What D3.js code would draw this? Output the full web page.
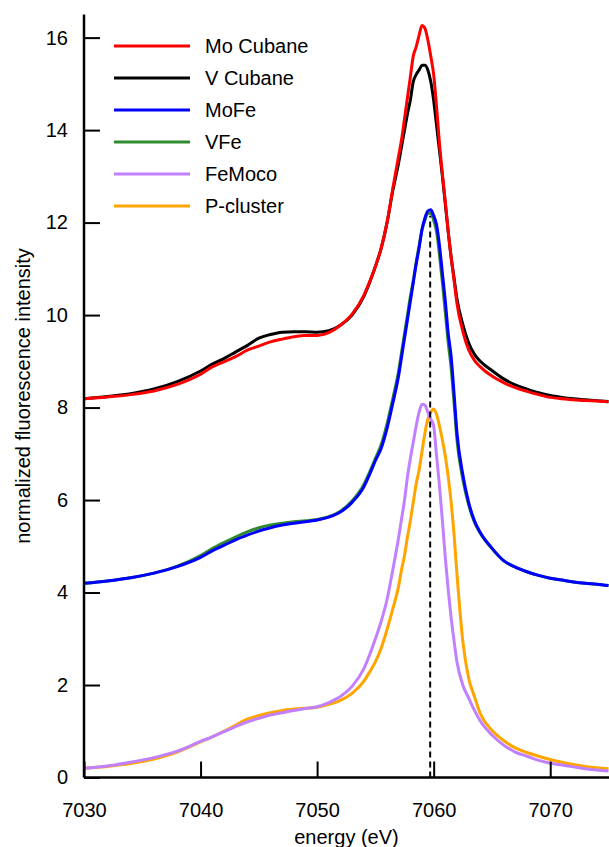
<!DOCTYPE html>
<html>
<head>
<meta charset="utf-8">
<script src="https://cdn.jsdelivr.net/npm/d3@7"></script>
<style>
  body { margin: 0; background: #fff; }
  svg text { font-family: "Liberation Sans", Arial, sans-serif; }
</style>
</head>
<body>
<svg id="chart" width="609" height="847"></svg>
<script>
// energy grid (eV), shared by all spectra
const energy = [7030, 7032, 7034, 7036, 7038, 7040, 7041, 7042, 7043, 7044,
  7045, 7046, 7047, 7048, 7049, 7050, 7051, 7052, 7053, 7054,
  7054.5, 7055, 7055.5, 7056, 7056.5, 7057, 7057.25, 7057.5, 7057.75, 7058,
  7058.25, 7058.5, 7058.75, 7059, 7059.25, 7059.5, 7059.75, 7060, 7060.25, 7060.5,
  7060.75, 7061, 7061.25, 7061.5, 7061.75, 7062, 7062.5, 7063, 7063.5, 7064,
  7065, 7066, 7067, 7068, 7069, 7070, 7071, 7072, 7073, 7074, 7075];

const moCubane = [8.19, 8.23, 8.28, 8.36, 8.50, 8.72, 8.88, 8.99, 9.10, 9.24,
  9.33, 9.42, 9.48, 9.53, 9.56, 9.56, 9.62, 9.78, 10.02, 10.42,
  10.72, 11.05, 11.45, 12.0, 12.75, 13.45, 13.8, 14.25, 14.7, 15.15,
  15.6, 15.8, 16.05, 16.26, 16.2, 15.95, 15.6, 15.2, 14.5, 13.7,
  13.05, 12.45, 11.8, 11.25, 10.75, 10.25, 9.65, 9.25, 9.02, 8.88,
  8.68, 8.54, 8.43, 8.35, 8.28, 8.22, 8.19, 8.17, 8.15, 8.14, 8.12];

const vCubane = [8.19, 8.24, 8.30, 8.40, 8.56, 8.79, 8.94, 9.06, 9.20, 9.34,
  9.50, 9.58, 9.63, 9.64, 9.64, 9.63, 9.66, 9.78, 10.0, 10.4,
  10.7, 11.05, 11.45, 12.0, 12.7, 13.3, 13.65, 14.0, 14.35, 14.65,
  15.05, 15.2, 15.3, 15.4, 15.4, 15.3, 15.05, 14.64, 14.1, 13.55,
  13.0, 12.4, 11.8, 11.25, 10.8, 10.35, 9.8, 9.4, 9.15, 9.0,
  8.8, 8.62, 8.49, 8.40, 8.32, 8.26, 8.22, 8.19, 8.17, 8.15, 8.13];

const moFe = [4.20, 4.25, 4.32, 4.42, 4.56, 4.76, 4.90, 5.02, 5.14, 5.24,
  5.33, 5.40, 5.46, 5.50, 5.53, 5.57, 5.63, 5.74, 5.95, 6.28,
  6.55, 6.85, 7.12, 7.55, 8.1, 8.7, 9.1, 9.5, 9.9, 10.3,
  10.7, 11.1, 11.45, 11.85, 12.1, 12.25, 12.28, 12.15, 11.95, 11.5,
  10.9, 10.3, 9.6, 9.1, 8.3, 7.45, 6.55, 5.95, 5.55, 5.3,
  4.96, 4.69, 4.55, 4.45, 4.37, 4.31, 4.27, 4.23, 4.20, 4.18, 4.15];

const vFe = [4.20, 4.25, 4.32, 4.42, 4.57, 4.80, 4.95, 5.08, 5.20, 5.31,
  5.40, 5.46, 5.50, 5.53, 5.55, 5.58, 5.64, 5.76, 5.98, 6.33,
  6.6, 6.9, 7.2, 7.65, 8.2, 8.8, 9.2, 9.6, 10.0, 10.4,
  10.75, 11.15, 11.5, 11.85, 12.05, 12.2, 12.2, 12.05, 11.8, 11.3,
  10.7, 10.05, 9.4, 8.85, 8.1, 7.3, 6.45, 5.9, 5.52, 5.28,
  4.95, 4.69, 4.55, 4.45, 4.37, 4.31, 4.27, 4.23, 4.20, 4.18, 4.15];

const feMoco = [0.20, 0.25, 0.33, 0.43, 0.57, 0.78, 0.88, 0.99, 1.10, 1.20,
  1.28, 1.35, 1.40, 1.45, 1.49, 1.53, 1.62, 1.75, 1.97, 2.35,
  2.65, 3.0, 3.38, 3.85, 4.5, 5.2, 5.6, 6.0, 6.5, 6.9,
  7.25, 7.6, 7.9, 8.07, 8.05, 7.9, 7.75, 7.6, 6.95, 6.3,
  5.55, 4.75, 4.05, 3.45, 2.95, 2.5, 2.0, 1.72, 1.45, 1.22,
  0.92, 0.70, 0.55, 0.46, 0.37, 0.31, 0.27, 0.23, 0.19, 0.16, 0.14];

const pCluster = [0.20, 0.24, 0.30, 0.40, 0.55, 0.77, 0.88, 1.00, 1.13, 1.26,
  1.34, 1.40, 1.45, 1.48, 1.50, 1.52, 1.58, 1.67, 1.82, 2.08,
  2.28, 2.5, 2.8, 3.2, 3.65, 4.15, 4.5, 4.8, 5.2, 5.55,
  5.95, 6.35, 6.65, 7.05, 7.45, 7.75, 7.9, 7.97, 7.85, 7.6,
  7.3, 6.95, 6.5, 5.95, 5.25, 4.4, 2.95, 2.15, 1.75, 1.38,
  1.02, 0.80, 0.64, 0.54, 0.46, 0.39, 0.33, 0.28, 0.24, 0.21, 0.19];

const seriesNames  = ["Mo Cubane", "V Cubane", "MoFe", "VFe", "FeMoco", "P-cluster"];
const seriesValues = [moCubane, vCubane, moFe, vFe, feMoco, pCluster];
const seriesColors = ["#ff0000", "#000000", "#0000ff", "#2e8b2e", "#c080ff", "#ffa500"];
const drawOrder    = [1, 0, 3, 2, 5, 4];   // back to front

const xTicks = [7030, 7040, 7050, 7060, 7070];
const yTicks = [0, 2, 4, 6, 8, 10, 12, 14, 16];
const refEnergy = 7059.7, refTop = 12.15;

const svg = d3.select("#chart");

const x = d3.scaleLinear().domain([7030, 7075]).range([84, 608.5]);
const y = d3.scaleLinear().domain([0, 16.5]).range([777.5, 14.5]);

// curves
const line = d3.line()
    .x((d, i) => x(energy[i]))
    .y(d => y(d))
    .curve(d3.curveMonotoneX);

svg.append("g").selectAll("path")
  .data(drawOrder).enter().append("path")
    .attr("d", i => line(seriesValues[i]))
    .attr("fill", "none")
    .attr("stroke", i => seriesColors[i])
    .attr("stroke-width", 3)
    .attr("stroke-linejoin", "round");

// reference energy
svg.append("line")
  .attr("x1", x(refEnergy)).attr("x2", x(refEnergy))
  .attr("y1", y(0)).attr("y2", y(refTop))
  .attr("stroke", "#000")
  .attr("stroke-width", 2)
  .attr("stroke-dasharray", "6,4");

// axes, ticks pointing in
const xAxis = svg.append("g")
  .attr("transform", `translate(0,${y(0)})`)
  .call(d3.axisBottom(x).tickValues(xTicks).tickFormat(d3.format("d"))
        .tickSizeInner(-16).tickSizeOuter(0).tickPadding(25));

const yAxis = svg.append("g")
  .attr("transform", `translate(${x(7030)},0)`)
  .call(d3.axisLeft(y).tickValues(yTicks)
        .tickSizeInner(-16).tickSizeOuter(0).tickPadding(16));

[xAxis, yAxis].forEach(a => {
  a.select(".domain").attr("stroke", "#000").attr("stroke-width", 2.5);
  a.selectAll(".tick line").attr("stroke", "#000").attr("stroke-width", 2);
  a.selectAll("text")
    .attr("fill", "#000")
    .style("font-size", "20px")
    .style("font-family", '"Liberation Sans", Arial, sans-serif');
});
xAxis.select(".domain").attr("d", `M${x(7030)},0H609`);
yAxis.select(".domain").attr("d", `M0,${y(0)}V${y(16.5)}`);

// axis titles
svg.append("text")
  .attr("x", (x(7030) + 609) / 2)
  .attr("y", 844)
  .attr("text-anchor", "middle")
  .style("font-size", "20px")
  .text("energy (eV)");

svg.append("text")
  .attr("transform", `translate(30,${y(8.25)}) rotate(-90)`)
  .attr("text-anchor", "middle")
  .style("font-size", "20px")
  .text("normalized fluorescence intensity");

// legend
const legend = svg.append("g").attr("transform", "translate(114,46)");
seriesNames.forEach((name, i) => {
  const row = legend.append("g").attr("transform", `translate(0,${i * 32})`);
  row.append("line")
    .attr("x1", 0).attr("x2", 76)
    .attr("stroke", seriesColors[i])
    .attr("stroke-width", 3);
  row.append("text")
    .attr("x", 91)
    .attr("dy", "0.35em")
    .style("font-size", "20px")
    .text(name);
});
</script>
</body>
</html>
